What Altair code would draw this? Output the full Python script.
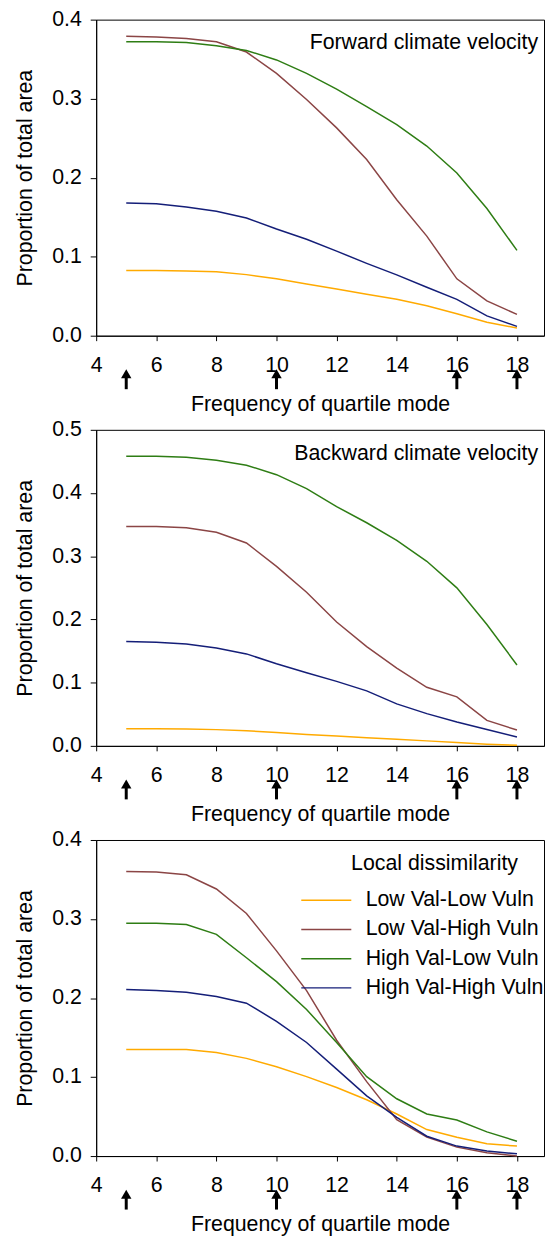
import altair as alt
import pandas as pd

FONT = "Liberation Sans"
FS = 21.5
W = 452
H = 319

x_vals = [5, 6, 7, 8, 9, 10, 11, 12, 13, 14, 15, 16, 17, 18]
x_ticks = [4, 6, 8, 10, 12, 14, 16, 18]
arrow_x = [5, 10, 16, 18]
series_names = ["Low Val-Low Vuln", "Low Val-High Vuln", "High Val-Low Vuln", "High Val-High Vuln"]
series_colors = ["#FFAA00", "#8B4545", "#2E7D14", "#141E78"]

# Forward climate velocity
fwd_ll = [0.0824, 0.0824, 0.082, 0.081, 0.0773, 0.072, 0.0655, 0.059, 0.0525, 0.046, 0.038, 0.0277, 0.017, 0.0097]
fwd_lh = [0.379, 0.378, 0.376, 0.372, 0.359, 0.332, 0.299, 0.263, 0.223, 0.172, 0.126, 0.072, 0.044, 0.027]
fwd_hl = [0.372, 0.372, 0.371, 0.367, 0.361, 0.349, 0.332, 0.312, 0.290, 0.267, 0.240, 0.206, 0.161, 0.108]
fwd_hh = [0.168, 0.167, 0.163, 0.1576, 0.149, 0.135, 0.122, 0.107, 0.0916, 0.077, 0.0613, 0.046, 0.025, 0.0118]

# Backward climate velocity
bwd_ll = [0.027, 0.027, 0.0267, 0.0257, 0.024, 0.021, 0.018, 0.0157, 0.013, 0.0105, 0.0079, 0.0052, 0.0026, 0.001]
bwd_lh = [0.347, 0.347, 0.345, 0.338, 0.321, 0.284, 0.243, 0.196, 0.157, 0.123, 0.0927, 0.0775, 0.0403, 0.025]
bwd_hl = [0.458, 0.458, 0.4565, 0.452, 0.444, 0.429, 0.407, 0.3785, 0.353, 0.325, 0.292, 0.250, 0.192, 0.128]
bwd_hh = [0.165, 0.164, 0.161, 0.155, 0.1455, 0.130, 0.1157, 0.102, 0.087, 0.0665, 0.051, 0.0377, 0.026, 0.014]

# Local dissimilarity
loc_ll = [0.1349, 0.1349, 0.1349, 0.131, 0.1236, 0.113, 0.1005, 0.0867, 0.0712, 0.0532, 0.0335, 0.0239, 0.0155, 0.0126]
loc_lh = [0.360, 0.3594, 0.356, 0.338, 0.307, 0.2597, 0.2094, 0.1466, 0.0942, 0.046, 0.0239, 0.0113, 0.0042, 0.0]
loc_hl = [0.2945, 0.2945, 0.293, 0.2806, 0.251, 0.2207, 0.1855, 0.1437, 0.1005, 0.0725, 0.0532, 0.0457, 0.0306, 0.0188]
loc_hh = [0.2107, 0.2094, 0.2073, 0.2019, 0.1935, 0.1705, 0.1437, 0.110, 0.0762, 0.049, 0.0251, 0.0126, 0.0063, 0.0029]

panels = [
    ("Forward climate velocity", [fwd_ll, fwd_lh, fwd_hl, fwd_hh], 0.4, [0, 0.1, 0.2, 0.3, 0.4], False),
    ("Backward climate velocity", [bwd_ll, bwd_lh, bwd_hl, bwd_hh], 0.5, [0, 0.1, 0.2, 0.3, 0.4, 0.5], False),
    ("Local dissimilarity", [loc_ll, loc_lh, loc_hl, loc_hh], 0.4, [0, 0.1, 0.2, 0.3, 0.4], True),
]


def make_panel(label, series, ymax, yticks, show_legend):
    rows = []
    for name, vals in zip(series_names, series):
        for xv, yv in zip(x_vals, vals):
            rows.append({"x": xv, "y": yv, "series": name})
    df = pd.DataFrame(rows)
    xscale = alt.Scale(domain=[4, 18.9], nice=False, zero=False)
    yscale = alt.Scale(domain=[0, ymax], nice=False)
    if show_legend:
        legend = alt.Legend(
            title=None, orient="none", legendX=207, legendY=50,
            symbolType="M-5,0L5,0", symbolSize=102, symbolStrokeWidth=1.5,
            symbolOffset=14.5,
            labelFont=FONT, labelFontSize=FS, labelColor="black", labelLimit=400,
            labelOffset=29, rowPadding=6.5, padding=0,
        )
    else:
        legend = None
    lines = alt.Chart(df).mark_line(strokeWidth=1.5).encode(
        x=alt.X("x:Q", scale=xscale,
                axis=alt.Axis(values=x_ticks, format="d", title="Frequency of quartile mode")),
        y=alt.Y("y:Q", scale=yscale,
                axis=alt.Axis(values=yticks, format=".1f", title="Proportion of total area")),
        color=alt.Color("series:N", scale=alt.Scale(domain=series_names, range=series_colors),
                        sort=series_names, legend=legend),
    )
    arr_df = pd.DataFrame({"x": arrow_x})
    shaft = alt.Chart(arr_df).mark_rule(strokeWidth=3, color="black").encode(
        x=alt.X("x:Q", scale=xscale), y=alt.value(H + 40), y2=alt.value(H + 54)
    )
    head = alt.Chart(arr_df).mark_point(shape="triangle-up", filled=True, size=110,
                                        color="black", opacity=1).encode(
        x=alt.X("x:Q", scale=xscale), y=alt.value(H + 38.5)
    )
    if show_legend:
        txt = alt.Chart(pd.DataFrame({"t": [label]})).mark_text(
            align="center", baseline="middle", fontSize=FS, font=FONT, color="black"
        ).encode(x=alt.value(341.5), y=alt.value(24), text="t:N")
    else:
        txt = alt.Chart(pd.DataFrame({"t": [label]})).mark_text(
            align="right", baseline="middle", fontSize=FS, font=FONT, color="black"
        ).encode(x=alt.value(W - 6), y=alt.value(24), text="t:N")
    return alt.layer(lines, shaft, head, txt).properties(width=W, height=H)


charts = [make_panel(*p) for p in panels]

chart = (
    alt.vconcat(*charts, spacing=2)
    .resolve_scale(x="independent", y="independent", color="independent")
    .resolve_legend(color="independent")
    .properties(padding={"left": 6, "top": -6, "right": 0, "bottom": 0})
    .configure_view(stroke="black", strokeWidth=1)
    .configure_axis(
        domainColor="black", tickColor="black", labelColor="black", titleColor="black",
        grid=False, labelFont=FONT, titleFont=FONT, labelFontSize=FS, titleFontSize=FS,
        titleFontWeight="normal", domainWidth=1, tickWidth=1, labelFlush=False,
        labelOverlap=False,
    )
    .configure_axisX(labelPadding=14, titlePadding=18, tickSize=5)
    .configure_axisY(labelPadding=9, titlePadding=15, tickSize=6)
)

chart.save("out.html", embed_options={"renderer": "svg", "actions": False})
